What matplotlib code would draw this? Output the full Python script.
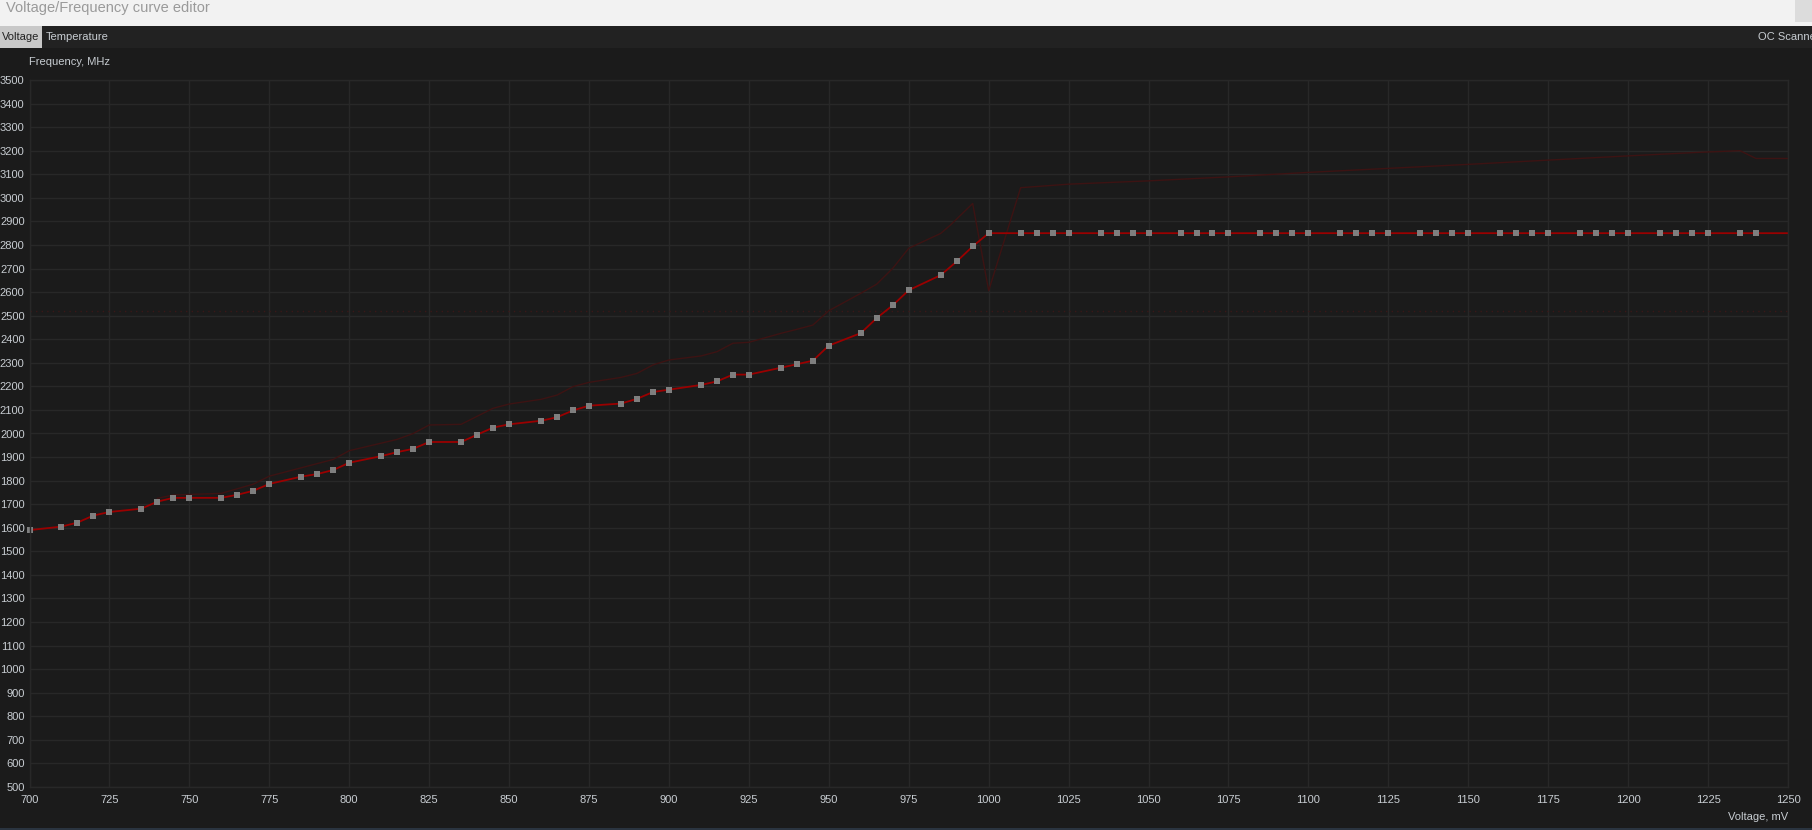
import matplotlib
matplotlib.use("Agg")
import matplotlib.pyplot as plt
from matplotlib.patches import Rectangle

# curva principal (pontos editaveis)
tensao_mv = [700, 710, 715, 720, 725, 735, 740, 745, 750, 760, 765, 770, 775,
             785, 790, 795, 800, 810, 815, 820, 825, 835, 840, 845, 850,
             860, 865, 870, 875, 885, 890, 895, 900, 910, 915, 920, 925,
             935, 940, 945, 950, 960, 965, 970, 975, 985, 990, 995, 1000,
             1010, 1015, 1020, 1025, 1035, 1040, 1045, 1050, 1060, 1065, 1070, 1075,
             1085, 1090, 1095, 1100, 1110, 1115, 1120, 1125, 1135, 1140, 1145, 1150,
             1160, 1165, 1170, 1175, 1185, 1190, 1195, 1200, 1210, 1215, 1220, 1225,
             1235, 1240]
freq_mhz = [1590, 1605, 1622, 1652, 1667, 1681, 1711, 1727, 1727, 1727, 1740, 1757, 1786,
            1817, 1828, 1845, 1876, 1904, 1921, 1935, 1964, 1964, 1995, 2025, 2039,
            2054, 2069, 2098, 2118, 2127, 2147, 2176, 2186, 2206, 2221, 2250, 2250,
            2279, 2294, 2309, 2373, 2426, 2490, 2544, 2608, 2672, 2730, 2794, 2850,
            2850, 2850, 2850, 2850, 2850, 2850, 2850, 2850, 2850, 2850, 2850, 2850,
            2850, 2850, 2850, 2850, 2850, 2850, 2850, 2850, 2850, 2850, 2850, 2850,
            2850, 2850, 2850, 2850, 2850, 2850, 2850, 2850, 2850, 2850, 2850, 2850,
            2850, 2850]
fim_mv = 1250
fim_mhz = 2850

# curva de fundo (fantasma)
fantasma_mv = [740, 745, 760, 770, 775, 795, 800, 815, 820, 825, 835, 845, 850,
               860, 865, 870, 875, 885, 890, 895, 900, 910, 915, 920, 925,
               935, 940, 945, 950, 960, 965, 970, 975, 985, 988, 995, 1000,
               1010, 1025, 1050, 1075, 1100, 1125, 1150, 1175, 1200, 1222, 1235,
               1240, 1250]
fantasma_mhz = [1725, 1739, 1746, 1785, 1819, 1890, 1927, 1975, 2000, 2036, 2039, 2107, 2125,
                2145, 2163, 2199, 2217, 2238, 2255, 2291, 2312, 2329, 2347, 2383, 2387,
                2425, 2442, 2460, 2521, 2595, 2634, 2701, 2786, 2849, 2884, 2976, 2606,
                3043, 3058, 3072, 3089, 3108, 3125, 3142, 3160, 3178, 3193, 3200,
                3167, 3167]

limite_mhz = 2520

xticks = list(range(700, 1251, 25))
yticks = list(range(500, 3501, 100))

W, H = 1812, 830
fundo = "#1b1b1b"
grade = "#282828"
texto = "#c8cdd2"


def fx(x):
    return x / W


def fy(y):
    return 1 - y / H


fig = plt.figure(figsize=(W / 100, H / 100), dpi=100, facecolor=fundo)
plt.rcParams['font.family'] = ['Liberation Sans', 'DejaVu Sans']

# barra de titulo e abas
fig.patches.append(Rectangle((0, fy(26)), 1, 26 / H, transform=fig.transFigure,
                             facecolor="#f2f2f2", edgecolor="none", zorder=0))
fig.patches.append(Rectangle((0, fy(48)), 1, 22 / H, transform=fig.transFigure,
                             facecolor="#222222", edgecolor="none", zorder=0))
fig.patches.append(Rectangle((0, fy(48)), fx(42), 22 / H, transform=fig.transFigure,
                             facecolor="#c8c8c8", edgecolor="none", zorder=0))
fig.patches.append(Rectangle((fx(1795), fy(22)), fx(17), 22 / H, transform=fig.transFigure,
                             facecolor="#dcdcdc", edgecolor="none", zorder=0))
fig.patches.append(Rectangle((0, 0), 1, 2 / H, transform=fig.transFigure,
                             facecolor="#2a3440", edgecolor="none", zorder=0))

fig.text(fx(6), fy(8), "Voltage/Frequency curve editor", color="#9a9a9a",
         fontsize=10.5, va="center", ha="left")
fig.text(fx(2), fy(37), "Voltage", color="#202020", fontsize=8, va="center")
fig.text(fx(46), fy(37), "Temperature", color=texto, fontsize=8, va="center")
fig.text(fx(1758), fy(37), "OC Scanner", color=texto, fontsize=8, va="center")
fig.text(fx(29), fy(62), "Frequency, MHz", color=texto, fontsize=8, va="center")
fig.text(fx(1788), fy(817), "Voltage, mV", color=texto, fontsize=8, va="center", ha="right")

ax = fig.add_axes([fx(29.5), fy(787), fx(1788 - 29.5), (787 - 80) / H])
ax.set_facecolor(fundo)
ax.set_xlim(700, 1250)
ax.set_ylim(500, 3500)
ax.set_xticks(xticks)
ax.set_yticks(yticks)
ax.tick_params(length=0, colors=texto, labelsize=8)
ax.tick_params(axis="y", pad=3.5)
ax.tick_params(axis="x", pad=6)
ax.grid(True, color=grade, linewidth=1)
ax.set_axisbelow(True)
for s in ax.spines.values():
    s.set_color(grade)
    s.set_linewidth(1)

ax.plot([700, 1250], [limite_mhz, limite_mhz], color="#3a1818", linewidth=1,
        linestyle=(0, (1, 3)))
ax.plot(fantasma_mv, fantasma_mhz, color="#3d1313", linewidth=1)
ax.plot(tensao_mv + [fim_mv], freq_mhz + [fim_mhz], color="#9a0000", linewidth=1.3)
ax.plot(tensao_mv, freq_mhz, linestyle="none", marker="s", markersize=4.3,
        markerfacecolor="#7f7f7f", markeredgewidth=0, clip_on=False)

plt.savefig("out.png", dpi=100, facecolor=fundo)
